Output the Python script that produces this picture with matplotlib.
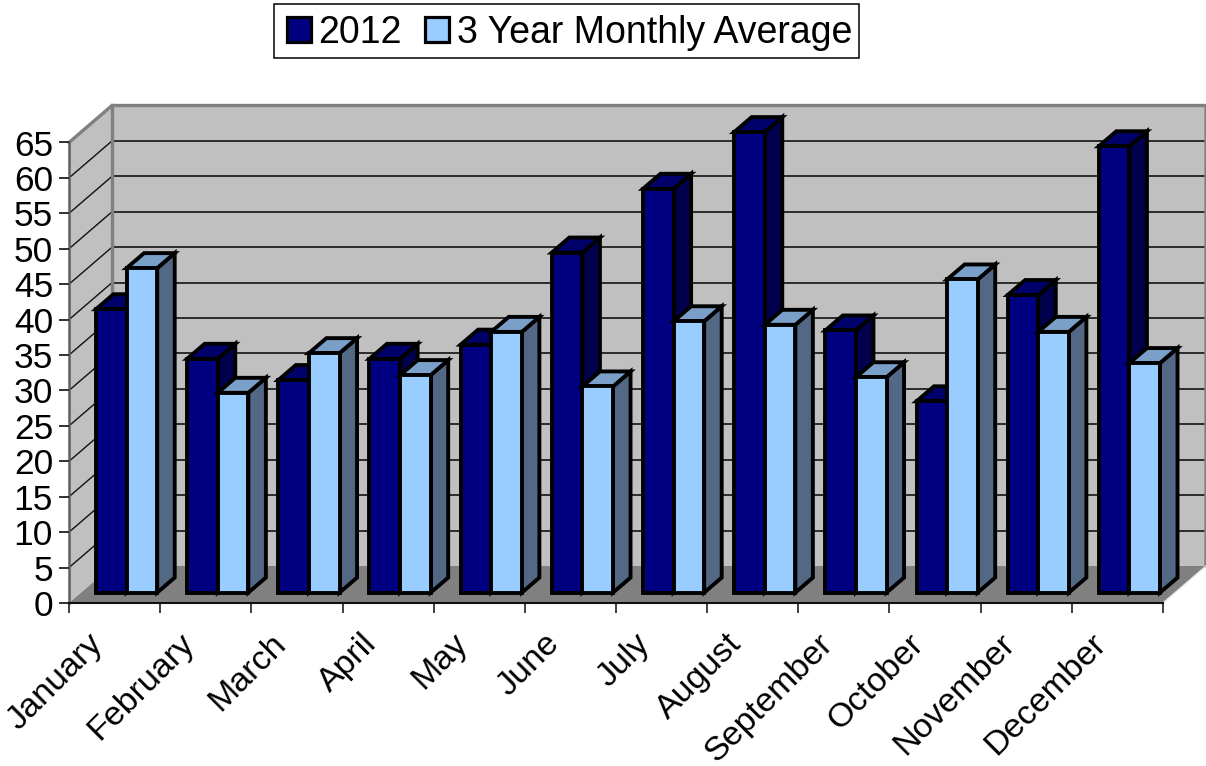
import matplotlib
matplotlib.use("Agg")
import matplotlib.pyplot as plt
from matplotlib.patches import Polygon, Patch, Rectangle
from matplotlib.transforms import ScaledTranslation

plt.rcParams['font.family'] = ['Liberation Sans', 'DejaVu Sans']

months = ["January", "February", "March", "April", "May", "June", "July",
          "August", "September", "October", "November", "December"]
values_2012 = [40, 33, 30, 33, 35, 48, 57, 65, 37, 27, 42, 63]
values_avg = [45.8, 28.2, 33.8, 30.7, 36.8, 29.1, 38.3, 37.8, 30.4, 44.2, 36.8, 32.4]
yticks = list(range(0, 70, 5))

W, H = 1206, 766
fig = plt.figure(figsize=(W / 100, H / 100), dpi=100, facecolor='white')
left, right, top, bottom = 69, 1163, 142.5, 603
ax = fig.add_axes([left / W, 1 - bottom / H, (right - left) / W, (bottom - top) / H])
ax.set_xlim(0, 12)
ax.set_ylim(0, 65)
ax.patch.set_visible(False)
for s in ax.spines.values():
    s.set_visible(False)

# conversion of pixel offsets of the oblique projection to data units
ux = 12 / (right - left)
uy = 65 / (bottom - top)
DX, DY = 43 * ux, 37 * uy
bar_dx, bar_dy = 17.5 * ux, 15 * uy
bar_y0 = 10.4 * uy
bar_off = 27 * ux
bar_w = 30.6 * ux

EDGE = 'black'
LW = 2.8


def poly(pts, fc, ec='none', lw=0, z=1):
    ax.add_patch(Polygon(pts, closed=True, facecolor=fc, edgecolor=ec, linewidth=lw,
                         zorder=z, clip_on=False, joinstyle='miter'))


# walls and floor
poly([(0, 0), (DX, DY), (DX, 65 + DY), (0, 65)], '#C0C0C0', z=1)
poly([(DX, DY), (12 + DX, DY), (12 + DX, 65 + DY), (DX, 65 + DY)], '#C0C0C0', z=1)
poly([(0, 0), (DX, DY), (12 + DX, DY), (12, 0)], '#808080', z=1.5)

# gridlines on both walls
for v in yticks[1:-1]:
    ax.plot([0, DX], [v, v + DY], color='#101010', lw=1.0, zorder=1.2, clip_on=False)
    ax.plot([DX, 12 + DX], [v + DY, v + DY], color='#202020', lw=1.3, zorder=1.2, clip_on=False)

# wall edges
ax.plot([0, DX, 12 + DX, 12 + DX], [65, 65 + DY, 65 + DY, DY], color='#808080', lw=2.4,
        zorder=1.3, clip_on=False, solid_joinstyle='miter')
ax.plot([DX, DX], [DY, 65 + DY], color='#808080', lw=2.4, zorder=1.3, clip_on=False)
ax.plot([0, 0], [0, 65], color='#606060', lw=1.8, zorder=1.4, clip_on=False)
ax.plot([12, 12 + DX], [0, DY], color='#E8E8E8', lw=1.0, zorder=1.6, clip_on=False)
ax.plot([0, 12], [0, 0], color='#101010', lw=1.5, zorder=1.7, clip_on=False)


def bar3d(x, v, front, topc, side, z):
    y0 = bar_y0
    y1 = bar_y0 + v
    x1 = x + bar_w
    poly([(x1, y0), (x1 + bar_dx, y0 + bar_dy), (x1 + bar_dx, y1 + bar_dy), (x1, y1)],
         side, EDGE, LW, z)
    poly([(x, y1), (x1, y1), (x1 + bar_dx, y1 + bar_dy), (x + bar_dx, y1 + bar_dy)],
         topc, EDGE, LW, z)
    poly([(x, y0), (x1, y0), (x1, y1), (x, y1)], front, EDGE, LW, z + 0.01)


for i, (a, b) in enumerate(zip(values_2012, values_avg)):
    x = i + bar_off
    bar3d(x, a, '#000080', '#00006B', '#00004D', 2 + i)
    bar3d(x + bar_w, b, '#99CCFF', '#7A9FC9', '#526885', 2.5 + i)

# axes ticks and labels
ax.set_yticks(yticks)
ax.set_yticklabels([str(v) for v in yticks], fontsize=25.5, color='black')
ax.tick_params(axis='y', length=7.5, width=1.3, color='#202020', pad=4)
ax.set_xticks(range(13))
ax.set_xticklabels([''] * 13)
ax.tick_params(axis='x', which='major', length=7.2, width=1.3, color='#303030')
ax.set_xticks([i + 0.5 for i in range(12)], minor=True)
ax.set_xticklabels(months, minor=True, fontsize=24.5, rotation=45, ha='right',
                   rotation_mode='anchor', va='top')
ax.tick_params(axis='x', which='minor', length=0, pad=18)
shift = ScaledTranslation(-27 / 100, 0, fig.dpi_scale_trans)
for lab in ax.get_xticklabels(minor=True):
    lab.set_transform(lab.get_transform() + shift)

# legend
fig.add_artist(Rectangle((273.5 / W, 1 - 58 / H), 585 / W, 54 / H, transform=fig.transFigure,
                         facecolor='white', edgecolor='black', linewidth=1.1))
handles = [Patch(facecolor='#000080', edgecolor='black', linewidth=2.3, label='2012'),
           Patch(facecolor='#99CCFF', edgecolor='black', linewidth=2.3, label='3 Year Monthly Average')]
fig.legend(handles=handles, loc='center left', bbox_to_anchor=(287 / W, 1 - 33 / H), ncols=2,
           fontsize=27, frameon=False, handlelength=0.64, handleheight=0.66,
           handletextpad=0.2, columnspacing=0.62, borderpad=0, borderaxespad=0)

fig.savefig('out.png', dpi=100, facecolor='white')
